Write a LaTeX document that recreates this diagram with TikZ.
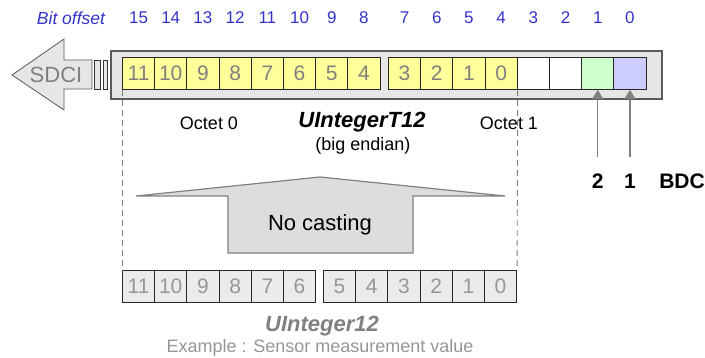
\documentclass[tikz,border=0pt]{standalone}
\usepackage{fontspec}
\setmainfont{Liberation Sans}
\usetikzlibrary{arrows.meta}
\definecolor{offsetblue}{RGB}{51,51,204}
\definecolor{boxgray}{RGB}{230,230,230}
\definecolor{edgegray}{RGB}{90,90,90}
\definecolor{bityellow}{RGB}{255,255,153}
\definecolor{bitgreen}{RGB}{204,255,204}
\definecolor{bitblue}{RGB}{204,204,255}
\definecolor{lowgray}{RGB}{235,235,235}
\definecolor{textgray}{RGB}{128,128,128}
\definecolor{lowtext}{RGB}{150,150,150}
\definecolor{castgray}{RGB}{221,221,221}
\definecolor{castedge}{RGB}{128,128,128}
\tikzset{
  fs/.style={font=\fontsize{#1}{#1}\selectfont},
  bitcell/.style={draw=black!85, line width=0.9pt, minimum width=32.2pt, minimum height=32pt,
    inner sep=0pt, anchor=north west, fs=21, text=textgray},
  lowcell/.style={bitcell, fill=lowgray, text=lowtext},
  offsetnum/.style={text=offsetblue, fs=17, inner sep=0pt},
  guide/.style={draw=textgray, dashed, dash pattern=on 6pt off 4pt, line width=0.9pt},
  bdcarrow/.style={draw=castedge, line width=1.2pt, -{Triangle[length=9pt,width=11pt]}},
}
\begin{document}
\begin{tikzpicture}[x=1pt,y=-1pt]
\useasboundingbox (0,0) rectangle (705,358);

% SDCI arrow pointing left, with the two connector bars
\draw[fill=boxgray, draw=edgegray, line width=0.8pt]
  (12,75) -- (64,39) -- (64,60) -- (92,60) -- (92,89) -- (64,89) -- (64,110) -- cycle;
\node[text=textgray, fs=22, inner sep=0pt] (sdci) at (56,75) {SDCI};
\draw[fill=boxgray, draw=black!80, line width=0.8pt] (94,60) rectangle (100,89);
\draw[fill=boxgray, draw=black!80, line width=0.8pt] (103,60) rectangle (107,89);

% frame around the 16 transmitted bits
\draw[fill=boxgray, draw=edgegray, line width=1.3pt] (111,51) rectangle (662,99);

% octet 0: bits 11..4 of the value
\foreach \v [count=\i from 0] in {11,10,9,8,7,6,5,4} {
  \node[bitcell, fill=bityellow] (a\i) at (122+32.2*\i,57) {\v};
}
% octet 1: bits 3..0, two unused bits, then the BDC bits
\foreach \v [count=\i from 0] in {3,2,1,0} {
  \node[bitcell, fill=bityellow] (b\i) at (388+32.2*\i,57) {\v};
}
\node[bitcell, fill=white] (b4) at (388+32.2*4,57) {};
\node[bitcell, fill=white] (b5) at (388+32.2*5,57) {};
\node[bitcell, fill=bitgreen] (b6) at (388+32.2*6,57) {};
\node[bitcell, fill=bitblue] (b7) at (388+32.2*7,57) {};

% bit offsets above the cells
\node[text=offsetblue, font=\fontsize{17.5}{17.5}\selectfont\itshape, inner sep=0pt] (bitoff) at (71,18) {Bit offset};
\foreach \v [count=\i from 0] in {15,14,13,12,11,10,9,8} {
  \node[offsetnum] (oa\i) at (a\i.center |- 0,18) {\v};
}
\foreach \v [count=\i from 0] in {7,6,5,4,3,2,1,0} {
  \node[offsetnum] (ob\i) at (b\i.center |- 0,18) {\v};
}

% labels under the frame
\node[fs=18, inner sep=0pt] (oct0) at (209,123) {Octet 0};
\node[fs=18, inner sep=0pt] (oct1) at (509,123) {Octet 1};
\node[font=\fontsize{22}{22}\selectfont\bfseries\itshape, inner sep=0pt] (tname) at (362,122) {UIntegerT12};
\node[fs=18, inner sep=0pt] (endian) at (363,146) {(big endian)};

% "No casting" upward arrow
\draw[fill=castgray, draw=castedge, line width=1.2pt]
  (136,196) -- (320,177) -- (505,196) -- (413,196) -- (413,253) -- (228,253) -- (228,196) -- cycle;
\node[fs=22, inner sep=0pt] (cast) at (320,225) {No casting};

% resulting 12-bit value
\foreach \v [count=\i from 0] in {11,10,9,8,7,6} {
  \node[lowcell] (c\i) at (122+32.2*\i,270) {\v};
}
\foreach \v [count=\i from 0] in {5,4,3,2,1,0} {
  \node[lowcell] (d\i) at (323+32.2*\i,270) {\v};
}
\node[text=textgray, font=\fontsize{22}{22}\selectfont\bfseries\itshape, inner sep=0pt] (vname) at (322,326) {UInteger12};
\node[text=lowtext, fs=18, inner sep=0pt] (example) at (320,348) {Example : Sensor measurement value};

% dashed guides linking the 12 value bits
\draw[guide] (a0.south west) -- (c0.north west);
\draw[guide] (b3.south east) -- (d5.north east);

% BDC pointers
\coordinate (p2) at (b6.south |- 0,157);
\coordinate (p1) at (b7.south |- 0,157);
\draw[bdcarrow] (p2) -- (b6.south);
\draw[bdcarrow] (p1) -- (b7.south);
\node[font=\fontsize{21}{21}\selectfont\bfseries, inner sep=0pt] (l2) at (p2 |- 0,181) {2};
\node[font=\fontsize{21}{21}\selectfont\bfseries, inner sep=0pt] (l1) at (p1 |- 0,181) {1};
\node[font=\fontsize{21}{21}\selectfont\bfseries, inner sep=0pt] (bdc) at (682,181) {BDC};
\end{tikzpicture}
\end{document}
